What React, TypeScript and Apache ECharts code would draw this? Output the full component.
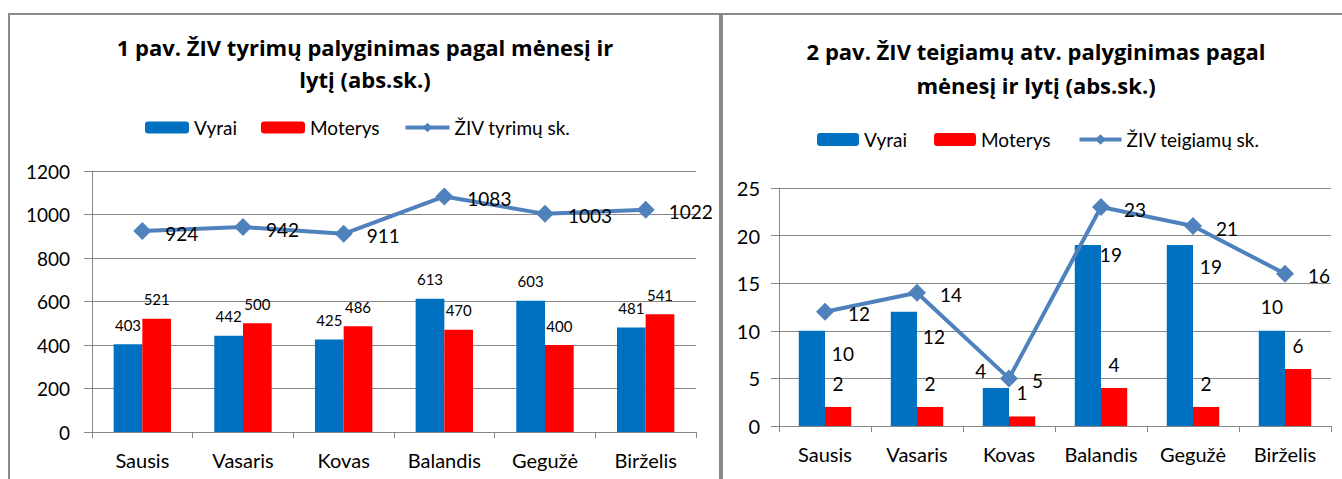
import React, { useEffect, useRef } from "react";
import * as echarts from "echarts";

const months = ["Sausis", "Vasaris", "Kovas", "Balandis", "Gegužė", "Birželis"];

const leftTitle = ["1 pav. ŽIV tyrimų palyginimas pagal mėnesį ir", "lytį (abs.sk.)"];
const rightTitle = ["2 pav. ŽIV teigiamų atv. palyginimas pagal", "mėnesį ir lytį (abs.sk.)"];

const seriesNames = ["Vyrai", "Moterys"];
const leftLineName = "ŽIV tyrimų sk.";
const rightLineName = "ŽIV teigiamų sk.";

const testsMen = [403, 442, 425, 613, 603, 481];
const testsWomen = [521, 500, 486, 470, 400, 541];
const testsTotal = [924, 942, 911, 1083, 1003, 1022];

const positiveMen = [10, 12, 4, 19, 19, 10];
const positiveWomen = [2, 2, 1, 4, 2, 6];
const positiveTotal = [12, 14, 5, 23, 21, 16];

// label offsets (style only) for the right chart's "Vyrai" labels
const rightMenLabelOffsets = [
  [31, 32],
  [30, 34],
  [-15, -8],
  [23, 19],
  [31, 31],
  [0, -15],
];

const BLUE = "#0070C0";
const RED = "#FF0000";
const LINE = "#4F81BD";
const GRID = "#868686";
const FONT = "Lato";
const TITLE_FONT = "Open Sans";
const BORDER = "#8a8a8a";

export default function App() {
  const ref = useRef<HTMLDivElement>(null);

  useEffect(() => {
    if (!ref.current) return;
    const chart = echarts.init(ref.current, undefined, { renderer: "svg" });

    const axisLabelStyle = { color: "#000", fontFamily: FONT, fontSize: 20 };
    const titleStyle = (text: string) => ({
      text,
      fontFamily: TITLE_FONT,
      fontSize: 22,
      fontWeight: "bold",
      fill: "#000",
      align: "center",
      verticalAlign: "middle",
    });

    const option: any = {
      animation: false,
      backgroundColor: "#fff",
      textStyle: { fontFamily: FONT },
      graphic: [
        { type: "rect", silent: true, shape: { x: 8, y: 13, width: 1334, height: 2 }, style: { fill: BORDER } },
        { type: "rect", silent: true, shape: { x: 8, y: 13, width: 2, height: 466 }, style: { fill: BORDER } },
        { type: "rect", silent: true, shape: { x: 719, y: 13, width: 4, height: 466 }, style: { fill: BORDER } },
        { type: "text", x: 365, y: 47, style: titleStyle(leftTitle[0]) },
        { type: "text", x: 365, y: 79, style: titleStyle(leftTitle[1]) },
        { type: "text", x: 1036, y: 51, style: titleStyle(rightTitle[0]) },
        { type: "text", x: 1036, y: 85, style: titleStyle(rightTitle[1]) },
      ],
      legend: [
        {
          left: 140,
          top: 113,
          itemWidth: 44,
          itemHeight: 12,
          itemGap: 24,
          data: [seriesNames[0], seriesNames[1], leftLineName],
          textStyle: { fontFamily: FONT, fontSize: 19, color: "#000" },
          lineStyle: { width: 4 },
          selectedMode: false,
        },
        {
          left: 812,
          top: 125,
          itemWidth: 42,
          itemHeight: 13,
          itemGap: 27,
          data: [seriesNames[0], seriesNames[1], rightLineName],
          textStyle: { fontFamily: FONT, fontSize: 19, color: "#000" },
          lineStyle: { width: 4 },
          selectedMode: false,
        },
      ],
      grid: [
        { left: 92, top: 171, width: 604, height: 261 },
        { left: 779, top: 188, width: 552, height: 238 },
      ],
      xAxis: [0, 1].map((i) => ({
        type: "category",
        gridIndex: i,
        data: months,
        axisLine: { lineStyle: { color: GRID, width: 1 } },
        axisTick: { show: true, length: 6, lineStyle: { color: GRID } },
        axisLabel: { ...axisLabelStyle, margin: 18, interval: 0 },
      })),
      yAxis: [
        {
          type: "value",
          gridIndex: 0,
          min: 0,
          max: 1200,
          interval: 200,
          axisLine: { show: true, lineStyle: { color: GRID } },
          axisTick: { show: true, length: 8, lineStyle: { color: GRID } },
          splitLine: { lineStyle: { color: GRID, width: 1 } },
          axisLabel: { color: "#000", fontFamily: FONT, fontSize: 19, margin: 22, formatter: (v: number) => String(v) },
        },
        {
          type: "value",
          gridIndex: 1,
          min: 0,
          max: 25,
          interval: 5,
          axisLine: { show: true, lineStyle: { color: GRID } },
          axisTick: { show: true, length: 8, lineStyle: { color: GRID } },
          splitLine: { lineStyle: { color: GRID, width: 1 } },
          axisLabel: { color: "#000", fontFamily: FONT, fontSize: 20, margin: 19, formatter: (v: number) => String(v) },
        },
      ],
      series: [
        {
          name: seriesNames[0],
          type: "bar",
          xAxisIndex: 0,
          yAxisIndex: 0,
          data: testsMen,
          itemStyle: { color: BLUE },
          barGap: "0%",
          barCategoryGap: "43%",
          label: { show: true, position: "top", distance: 12, color: "#000", fontFamily: FONT, fontSize: 15 },
        },
        {
          name: seriesNames[1],
          type: "bar",
          xAxisIndex: 0,
          yAxisIndex: 0,
          data: testsWomen,
          itemStyle: { color: RED },
          barGap: "0%",
          barCategoryGap: "43%",
          label: { show: true, position: "top", distance: 12, color: "#000", fontFamily: FONT, fontSize: 15 },
        },
        {
          name: leftLineName,
          type: "line",
          xAxisIndex: 0,
          yAxisIndex: 0,
          data: testsTotal,
          symbol: "diamond",
          symbolSize: 18,
          itemStyle: { color: LINE },
          lineStyle: { color: LINE, width: 4 },
          z: 5,
          label: { show: true, position: "right", distance: 14, offset: [0, 2], color: "#000", fontFamily: FONT, fontSize: 19 },
        },
        {
          name: seriesNames[0],
          type: "bar",
          xAxisIndex: 1,
          yAxisIndex: 1,
          data: positiveMen.map((v, i) => ({
            value: v,
            label: { offset: rightMenLabelOffsets[i] },
          })),
          itemStyle: { color: BLUE },
          barGap: "0%",
          barCategoryGap: "43%",
          label: { show: true, position: "top", distance: 0, color: "#000", fontFamily: FONT, fontSize: 19 },
        },
        {
          name: seriesNames[1],
          type: "bar",
          xAxisIndex: 1,
          yAxisIndex: 1,
          data: positiveWomen,
          itemStyle: { color: RED },
          barGap: "0%",
          barCategoryGap: "43%",
          label: { show: true, position: "top", distance: 14, color: "#000", fontFamily: FONT, fontSize: 19 },
        },
        {
          name: rightLineName,
          type: "line",
          xAxisIndex: 1,
          yAxisIndex: 1,
          data: positiveTotal,
          symbol: "diamond",
          symbolSize: 18,
          itemStyle: { color: LINE },
          lineStyle: { color: LINE, width: 4 },
          z: 5,
          label: { show: true, position: "right", distance: 14, offset: [0, 2], color: "#000", fontFamily: FONT, fontSize: 19 },
        },
      ],
    };

    chart.setOption(option);
    return () => chart.dispose();
  }, []);

  return (
    <div
      ref={ref}
      style={{ position: "fixed", left: 0, top: 0, width: 1342, height: 479, background: "#fff" }}
    />
  );
}
